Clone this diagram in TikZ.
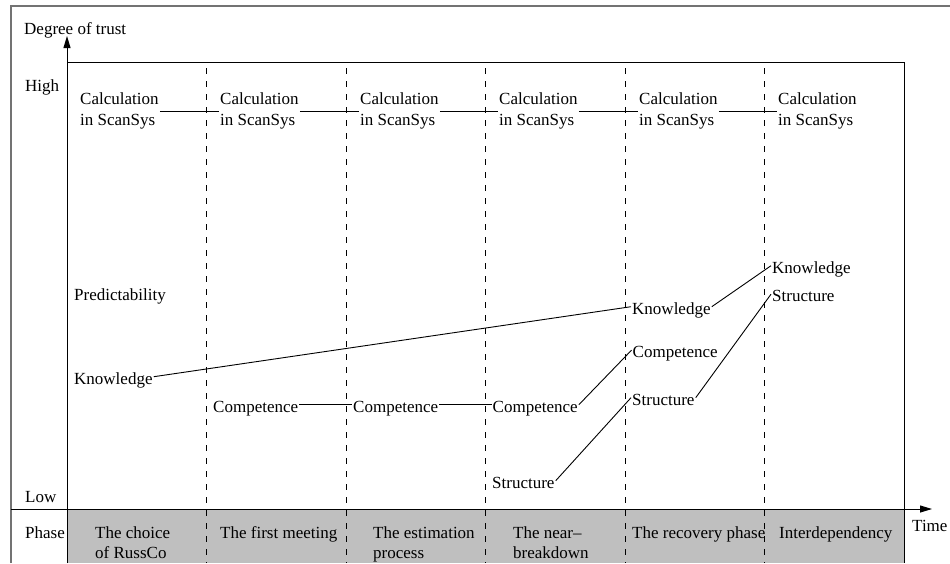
\documentclass[tikz,border=0pt]{standalone}
\usepackage{fontspec}
\setmainfont{Liberation Serif}
\usetikzlibrary{arrows.meta}
\begin{document}
\begin{tikzpicture}[x=1pt,y=-1pt,
  every node/.style={font=\fontsize{17}{20.5}\selectfont, inner sep=1pt},
  lbl/.style={anchor=base west},
  item/.style={anchor=base west, text height=14.6pt, text depth=0pt},
  calc/.style={anchor=west, align=left},
  phasebox/.style={anchor=north west, align=left},
  link/.style={line width=0.9pt},
  divider/.style={line width=0.9pt, dash pattern=on 6pt off 7pt},
  frame/.style={line width=1.5pt, draw=black!55},
  axis/.style={line width=1pt, -{Triangle[length=12pt,width=7pt]}},
]
\useasboundingbox (0,0) rectangle (950,563);

% phase band
\fill[gray!50] (67,509) rectangle (904,563);
% outer frame
\draw[frame] (11,563) -- (11,6) -- (950,6);
% plotting area
\draw[line width=1pt] (67,62) -- (904,62) -- (904,563);
% phase dividers
\foreach \x in {206.5,346,485.5,625,764.5}
  \draw[divider] (\x,68) -- (\x,563);
% axes
\draw[axis] (67,563) -- (67,36);
\draw[axis] (11,509) -- (932,509);

% axis labels
\node[lbl] (ytitle) at (23,34) {Degree of trust};
\node[lbl] (high) at (24,91) {High};
\node[lbl] (low) at (24,502) {Low};
\node[lbl] (phase) at (24,538) {Phase};
\node[lbl] (time) at (911,531) {Time};

% calculation row
\node[calc] (calc1) at (79,111) {Calculation\\in ScanSys};
\node[calc] (calc2) at (219,111) {Calculation\\in ScanSys};
\node[calc] (calc3) at (359,111) {Calculation\\in ScanSys};
\node[calc] (calc4) at (498,111) {Calculation\\in ScanSys};
\node[calc] (calc5) at (638,111) {Calculation\\in ScanSys};
\node[calc] (calc6) at (777,111) {Calculation\\in ScanSys};
\draw[link] (calc1.east) -- (calc2.west);
\draw[link] (calc2.east) -- (calc3.west);
\draw[link] (calc3.east) -- (calc4.west);
\draw[link] (calc4.east) -- (calc5.west);
\draw[link] (calc5.east) -- (calc6.west);

% trust components
\node[item] (pred) at (73,300) {Predictability};
\node[item] (know1) at (73,384) {Knowledge};
\node[item] (know2) at (631,314) {Knowledge};
\node[item] (know3) at (771,273) {Knowledge};
\node[item] (comp1) at (212,412) {Competence};
\node[item] (comp2) at (352,412) {Competence};
\node[item] (comp3) at (491.5,412) {Competence};
\node[item] (comp4) at (631.5,357.5) {Competence};
\node[item] (str1) at (491,488) {Structure};
\node[item] (str2) at (631,405) {Structure};
\node[item] (str3) at (771,301.5) {Structure};

\draw[link] (know1.east) -- (know2.west);
\draw[link] (know2.east) -- (know3.west);
\draw[link] (comp1.east) -- (comp2.west);
\draw[link] (comp2.east) -- (comp3.west);
\draw[link] (comp3.east) -- (comp4.west);
\draw[link] (str1.east) -- (str2.west);
\draw[link] (str2.east) -- (str3.west);

% phase names
\node[phasebox] (ph1) at (94,525.4) {The choice\\of RussCo};
\node[phasebox] (ph2) at (219,525.4) {The first meeting};
\node[phasebox] (ph3) at (372,525.4) {The estimation\\process};
\node[phasebox] (ph4) at (512,525.4) {The near--\\breakdown};
\node[phasebox] (ph5) at (631,525.4) {The recovery phase};
\node[phasebox] (ph6) at (778,525.4) {Interdependency};
\end{tikzpicture}
\end{document}
